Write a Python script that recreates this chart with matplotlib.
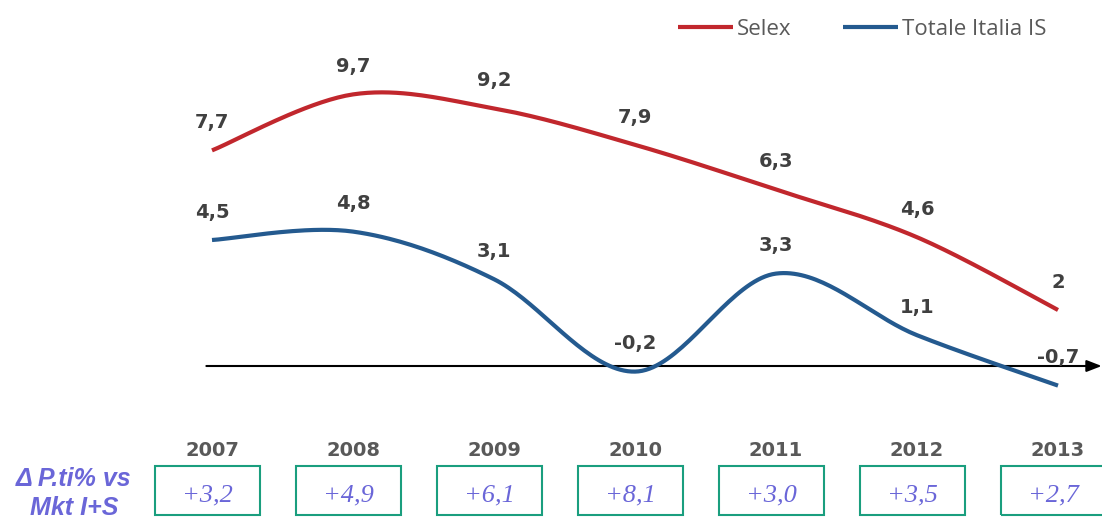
import matplotlib
matplotlib.use("Agg")
import matplotlib.pyplot as plt
from matplotlib.patches import Rectangle
import numpy as np

years = ["2007", "2008", "2009", "2010", "2011", "2012", "2013"]
selex = [7.7, 9.7, 9.2, 7.9, 6.3, 4.6, 2.0]
totale = [4.5, 4.8, 3.1, -0.2, 3.3, 1.1, -0.7]
selex_labels = ["7,7", "9,7", "9,2", "7,9", "6,3", "4,6", "2"]
totale_labels = ["4,5", "4,8", "3,1", "-0,2", "3,3", "1,1", "-0,7"]
delta_labels = ["+3,2", "+4,9", "+6,1", "+8,1", "+3,0", "+3,5", "+2,7"]

RED = "#c1272d"
BLUE = "#245a8f"
LABEL = "#404040"
YEAR = "#595959"
PURPLE = "#6a66d8"
TEAL = "#1a9e7e"


def smooth(xs, ys, n=40):
    # Excel-like smoothed line (Catmull-Rom through the points)
    p = np.column_stack([xs, ys]).astype(float)
    p = np.vstack([p[0], p, p[-1]])
    out = []
    for i in range(1, len(p) - 2):
        p0, p1, p2, p3 = p[i - 1], p[i], p[i + 1], p[i + 2]
        c1 = p1 + (p2 - p0) / 6
        c2 = p2 - (p3 - p1) / 6
        t = np.linspace(0, 1, n)[:, None]
        seg = ((1 - t) ** 3) * p1 + 3 * ((1 - t) ** 2) * t * c1 + 3 * (1 - t) * t ** 2 * c2 + t ** 3 * p2
        out.append(seg if i == 1 else seg[1:])
    seg = np.vstack(out)
    return seg[:, 0], seg[:, 1]


fig = plt.figure(figsize=(11.02, 5.2), dpi=100)
ax = fig.add_axes([0, 0, 1, 1])
# 141 px per year, 28 px per unit, zero line 154 px above bottom
ax.set_xlim(-212 / 141, (1102 - 212) / 141)
ax.set_ylim(-154 / 28, (520 - 154) / 28)
ax.axis("off")

x = np.arange(len(years))

sx, sy = smooth(x, selex)
ax.plot(sx, sy, color=RED, lw=3, solid_capstyle="butt", label="Selex", zorder=3)
tx, ty = smooth(x, totale)
ax.plot(tx, ty, color=BLUE, lw=3, solid_capstyle="butt", label="Totale Italia IS", zorder=3)

# zero axis with arrow
ax.annotate("", xy=(6.31, 0), xytext=(-0.04, 0),
            arrowprops=dict(arrowstyle="-|>,head_length=0.9,head_width=0.35",
                            color="black", lw=1.5, shrinkA=0, shrinkB=0), zorder=2)

lab_font = dict(family="DejaVu Sans", fontsize=14, fontweight="bold", color=LABEL,
                ha="center", va="center")
for xi, v, s in zip(x, selex, selex_labels):
    ax.annotate(s, (xi, v), xytext=(0, 20), textcoords="offset points", **lab_font)
for xi, v, s in zip(x, totale, totale_labels):
    ax.annotate(s, (xi, v), xytext=(0, 20), textcoords="offset points", **lab_font)

# year labels and delta boxes
for xi, yr, d in zip(x, years, delta_labels):
    ax.text(xi, -3.0, yr, family="DejaVu Sans", fontsize=14, fontweight="bold",
            color=YEAR, ha="center", va="center")
    ax.add_patch(Rectangle((xi - 0.035 - 0.3725, -5.32), 0.745, 1.75, fill=False,
                           edgecolor=TEAL, lw=1.5, clip_on=False))
    ax.text(xi - 0.035, -4.64, d, family="Liberation Serif", style="italic", fontsize=19,
            color=PURPLE, ha="center", va="center")

ax.text(74 / 141 - 212 / 141, -4.02, "Δ P.ti% vs", family="Liberation Sans", style="italic",
        fontweight="bold", fontsize=18, color=PURPLE, ha="center", va="center")
ax.text(74 / 141 - 212 / 141, -5.08, "Mkt I+S", family="Liberation Sans", style="italic",
        fontweight="bold", fontsize=18, color=PURPLE, ha="center", va="center")

leg = ax.legend(loc="upper right", bbox_to_anchor=(1058 / 1102, 1 - 8 / 520), ncol=2,
                frameon=False, handlelength=2.5, handletextpad=0.18, columnspacing=2.3,
                borderpad=0, prop=dict(family="Open Sans", size=16))
for t in leg.get_texts():
    t.set_color(YEAR)

fig.savefig("out.png", dpi=100)
